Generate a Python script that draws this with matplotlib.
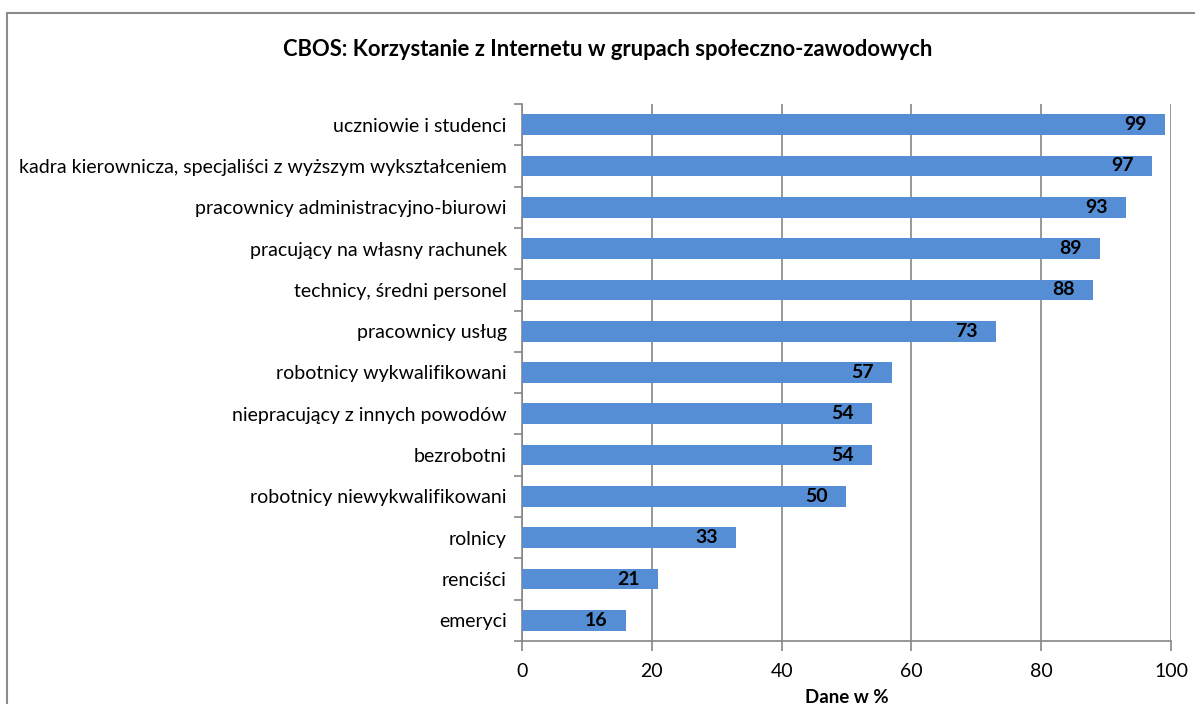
import matplotlib.pyplot as plt
from matplotlib.patches import Rectangle

plt.rcParams['font.family'] = ['Lato', 'DejaVu Sans']

# grupy od góry do dołu
groups = [
    'uczniowie i studenci',
    'kadra kierownicza, specjaliści z wyższym wykształceniem',
    'pracownicy administracyjno-biurowi',
    'pracujący na własny rachunek',
    'technicy, średni personel',
    'pracownicy usług',
    'robotnicy wykwalifikowani',
    'niepracujący z innych powodów',
    'bezrobotni',
    'robotnicy niewykwalifikowani',
    'rolnicy',
    'renciści',
    'emeryci',
]
values = [99, 97, 93, 89, 88, 73, 57, 54, 54, 50, 33, 21, 16]
xticks = [0, 20, 40, 60, 80, 100]

grid_col = '#868686'
bar_col = '#558ED5'

fig = plt.figure(figsize=(11.95, 7.04), dpi=100)
ax = fig.add_axes([522 / 1195, 1 - 641 / 704, 649 / 1195, 537 / 704])

# ramka wykresu
fig.patches.append(Rectangle((7 / 1195, -0.1), 1.1, 1 - 13 / 704 + 0.1,
                             transform=fig.transFigure, fill=False,
                             edgecolor='#8c8c8c', linewidth=1.5))

pos = list(range(len(groups)))
ax.barh(pos, values, height=0.5, color=bar_col, zorder=3)
for p, v in zip(pos, values):
    ax.text(v - 2.8, p, str(v), ha='right', va='center', fontsize=14,
            fontweight='bold', color='black', zorder=4)

ax.set_ylim(len(groups) - 0.5, -0.5)
ax.set_xlim(0, 100)
ax.set_yticks(pos)
ax.set_yticklabels(groups, fontsize=14)
ax.set_yticks([p + 0.5 for p in [-1] + pos], minor=True)
ax.tick_params(axis='y', which='major', length=0, pad=11)
ax.tick_params(axis='y', which='minor', length=6, color=grid_col, width=1.2)

ax.set_xticks(xticks)
ax.set_xticklabels([str(t) for t in xticks], fontsize=14)
ax.tick_params(axis='x', length=7, color=grid_col, width=1.2, pad=9)
ax.xaxis.grid(True, color=grid_col, linewidth=1.2, zorder=0)

for s in ['top', 'right']:
    ax.spines[s].set_visible(False)
for s in ['left', 'bottom']:
    ax.spines[s].set_color(grid_col)
    ax.spines[s].set_linewidth(1.2)

ax.set_xlabel('Dane w %', fontsize=13.5, fontweight='bold', labelpad=6)
fig.text(608 / 1195, 1 - 49 / 704, 'CBOS: Korzystanie z Internetu w grupach społeczno-zawodowych',
         ha='center', va='center', fontsize=15.8, fontweight='bold')

fig.savefig('out.png', dpi=100)
